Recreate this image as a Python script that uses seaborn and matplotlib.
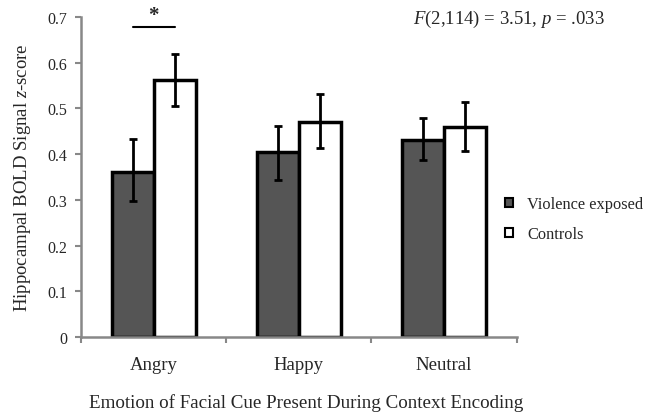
import pandas as pd
import matplotlib
matplotlib.use("Agg")
import matplotlib.pyplot as plt
import seaborn as sns

emotions = ["Angry", "Happy", "Neutral"]
groups = ["Violence exposed", "Controls"]
violence_means = [0.362, 0.404, 0.432]
violence_lo = [0.297, 0.343, 0.388]
violence_hi = [0.433, 0.462, 0.478]
control_means = [0.563, 0.471, 0.460]
control_lo = [0.505, 0.413, 0.406]
control_hi = [0.619, 0.532, 0.515]

df = pd.DataFrame({
    "emotion": emotions * 2,
    "group": [groups[0]] * 3 + [groups[1]] * 3,
    "value": violence_means + control_means,
    "lo": violence_lo + control_lo,
    "hi": violence_hi + control_hi,
})

sns.set_style("white")
plt.rcParams["font.family"] = ["Liberation Serif", "DejaVu Serif"]
plt.rcParams["mathtext.fontset"] = "custom"
plt.rcParams["mathtext.rm"] = "Liberation Serif"
plt.rcParams["mathtext.it"] = "Liberation Serif:italic"

fig = plt.figure(figsize=(6.54, 4.14), dpi=100)
ax = fig.add_axes([0.124, 0.1836, 0.666, 0.7729])

sns.barplot(data=df, x="emotion", y="value", hue="group", order=emotions,
            hue_order=groups, palette=["#555555", "white"], width=0.58,
            edgecolor="black", linewidth=2.5, errorbar=None, ax=ax)

# error bars on top of each bar (patches come in hue order)
bars = [p for p in ax.patches if p.get_height() > 0][:6]
for i, p in enumerate(bars):
    x = p.get_x() + p.get_width() / 2
    h = p.get_height()
    lo, hi = df["lo"].iloc[i], df["hi"].iloc[i]
    ax.errorbar(x, h, yerr=[[h - lo], [hi - h]], color="black", lw=2,
                capsize=3, capthick=2)

# significance marker over Angry
a1 = bars[0].get_x() + bars[0].get_width() / 2
a2 = bars[3].get_x() + bars[3].get_width() / 2
ax.plot([a1, a2], [0.678, 0.678], color="black", lw=1.5)
ax.text((a1 + a2) / 2, 0.683, "*", ha="center", va="bottom", fontsize=15,
        fontweight="bold")

fig.text(0.925, 0.952, r"$F$(2,114) = 3.51, $p$ = .033", ha="right",
         va="center", fontsize=13.5)

ax.set_xlim(-0.5, 2.5)
ax.set_ylim(0, 0.7)
ax.set_yticks([0, 0.1, 0.2, 0.3, 0.4, 0.5, 0.6, 0.7])
ax.set_yticklabels(["0", "0.1", "0.2", "0.3", "0.4", "0.5", "0.6", "0.7"], fontsize=11.5)
ax.set_xticks([-0.5, 0.5, 1.5, 2.5], minor=True)
ax.tick_params(axis="x", which="major", length=0, pad=14, labelsize=13.5)
ax.tick_params(axis="x", which="minor", length=4, width=1.5, color="#888888",
               direction="out", bottom=True)
ax.tick_params(axis="y", length=4, width=1.5, color="#888888", direction="out",
               left=True, pad=6)

for s in ["top", "right"]:
    ax.spines[s].set_visible(False)
for s in ["left", "bottom"]:
    ax.spines[s].set_color("#888888")
    ax.spines[s].set_linewidth(1.8)

ax.set_xlabel("Emotion of Facial Cue Present During Context Encoding", fontsize=13.7)
ax.xaxis.set_label_coords(0.516, -0.203)
ax.xaxis.label.set_va("center")
ax.set_ylabel(r"Hippocampal BOLD Signal $z$-score", fontsize=13.5)
ax.yaxis.set_label_coords(-0.135, 0.5)
ax.yaxis.label.set_va("center")

ax.legend(loc="upper left", bbox_to_anchor=(0.772, 0.523),
          bbox_transform=fig.transFigure, frameon=False, fontsize=11.8,
          handlelength=0.5, handleheight=0.5, handletextpad=0.85,
          labelspacing=0.85, borderaxespad=0, borderpad=0)
for h in ax.get_legend().legend_handles:
    h.set_linewidth(1.5)

fig.savefig("out.png", dpi=100)
